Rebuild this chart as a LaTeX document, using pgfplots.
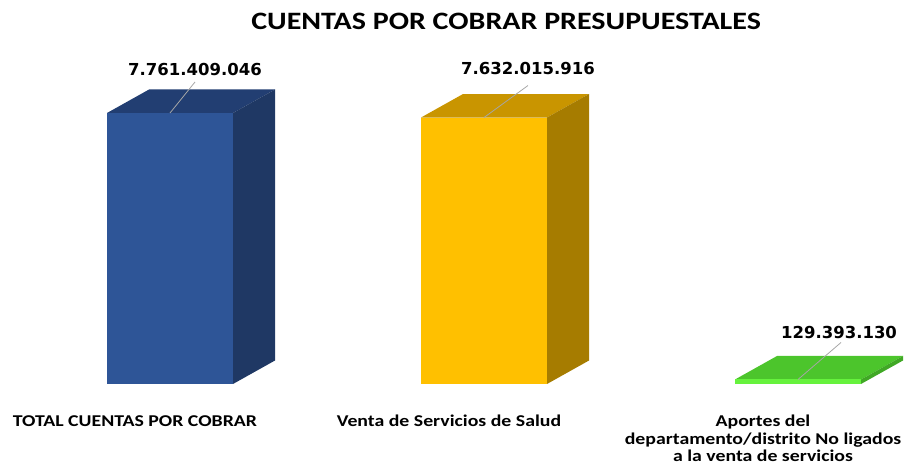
\documentclass[border=0pt]{standalone}
\usepackage{fontspec}
\setmainfont{Carlito}
\newfontfamily\widefont[FakeStretch=1.2]{Carlito}
\newfontfamily\valfont{DejaVu Sans}
\usepackage{pgfplots}
\pgfplotsset{compat=1.18}
\definecolor{bluefront}{HTML}{2E5597}
\definecolor{bluetop}{HTML}{223E72}
\definecolor{blueside}{HTML}{1F3864}
\definecolor{goldfront}{HTML}{FFC000}
\definecolor{goldtop}{HTML}{C99500}
\definecolor{goldside}{HTML}{A67C00}
\definecolor{greenfront}{HTML}{66F23D}
\definecolor{greentop}{HTML}{4CC52C}
\definecolor{greenside}{HTML}{40A825}
\begin{document}
\begin{tikzpicture}
\path[use as bounding box] (0,0) rectangle (907pt,468pt);
\begin{axis}[
  at={(0pt,84pt)}, anchor=south west,
  scale only axis, width=907pt, height=384pt,
  xmin=-0.54140, xmax=2.34713,
  ymin=0, ymax=1.09977e10,
  clip=false,
  axis line style={draw=none},
  major tick length=0pt,
  ytick=\empty,
  xtick={0,1,2},
  xticklabels={{TOTAL CUENTAS POR COBRAR},{Venta de Servicios de Salud},{Aportes del\\departamento/distrito No ligados\\a la venta de servicios}},
  xticklabel style={align=center, anchor=north, xshift=-35pt, yshift=-31pt, inner sep=0pt,
    font=\widefont\bfseries\fontsize{16.5}{17.5}\selectfont},
  frontbar/.style={ybar, bar width=126pt, bar shift=0pt, draw=none,
    point meta=explicit symbolic, nodes near coords,
    every node near coord/.append style={font=\valfont\bfseries\fontsize{16.5}{18}\selectfont, anchor=center, text=black}},
]
% top and side faces (depth 42pt x 23.5pt)
\addplot[fill=bluetop, draw=none, mark=none] coordinates {(-0.2006,7761409046) (0.2006,7761409046) (0.3344,8434409046) (-0.0668,8434409046)} -- cycle;
\addplot[fill=blueside, draw=none, mark=none] coordinates {(0.2006,0) (0.3344,673000000) (0.3344,8434409046) (0.2006,7761409046)} -- cycle;
\addplot[fill=goldtop, draw=none, mark=none] coordinates {(0.7994,7632015916) (1.2006,7632015916) (1.3344,8305015916) (0.9332,8305015916)} -- cycle;
\addplot[fill=goldside, draw=none, mark=none] coordinates {(1.2006,0) (1.3344,673000000) (1.3344,8305015916) (1.2006,7632015916)} -- cycle;
\addplot[fill=greentop, draw=none, mark=none] coordinates {(1.7994,129393130) (2.2006,129393130) (2.3344,802393130) (1.9332,802393130)} -- cycle;
\addplot[fill=greenside, draw=none, mark=none] coordinates {(2.2006,0) (2.3344,673000000) (2.3344,802393130) (2.2006,129393130)} -- cycle;
% front faces
\addplot[frontbar, fill=bluefront,
  every node near coord/.append style={xshift=25pt, yshift=44pt}] coordinates {(0,7761409046) [7.761.409.046]};
\addplot[frontbar, fill=goldfront,
  every node near coord/.append style={xshift=44pt, yshift=49pt}] coordinates {(1,7632015916) [7.632.015.916]};
\addplot[frontbar, fill=greenfront,
  every node near coord/.append style={xshift=41pt, yshift=47pt}] coordinates {(2,129393130) [129.393.130]};
% leader lines
\draw[gray!70, line width=0.8pt] (axis cs:0,7761409046) -- ++(25pt,31pt);
\draw[gray!70, line width=0.8pt] (axis cs:1,7632015916) -- ++(44pt,32pt);
\draw[gray!70, line width=0.8pt] (axis cs:2,129393130) -- ++(43pt,37pt);
\node[font=\widefont\bfseries\fontsize{25}{30}\selectfont, anchor=center] at (rel axis cs:0.558,0.943) {CUENTAS POR COBRAR PRESUPUESTALES};
\end{axis}
\end{tikzpicture}
\end{document}
